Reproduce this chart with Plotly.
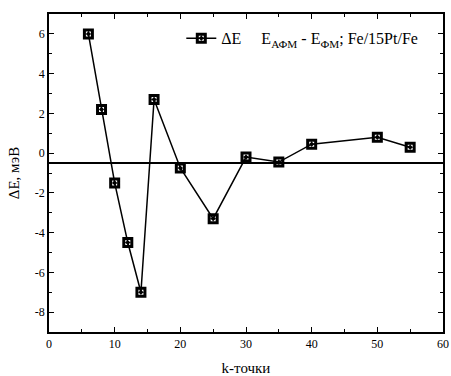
import plotly.graph_objects as go

# k-point convergence of the AFM-FM energy difference
k_points = [6, 8, 10, 12, 14, 16, 20, 25, 30, 35, 40, 50, 55]
delta_e = [6.0, 2.2, -1.5, -4.5, -7.0, 2.7, -0.75, -3.3, -0.2, -0.45, 0.45, 0.8, 0.3]
reference_level = -0.5

x_ticks = [0, 10, 20, 30, 40, 50, 60]
y_ticks = [-8, -6, -4, -2, 0, 2, 4, 6]
y_tick_text = [str(v).replace("\u2212", "-") for v in y_ticks]

serif = "Liberation Serif"

fig = go.Figure()
fig.add_trace(go.Scatter(
    x=k_points, y=delta_e,
    mode="lines+markers",
    name="\u0394E     E<sub>\u0410\u0424\u041c</sub> - E<sub>\u0424\u041c</sub>; Fe/15Pt/Fe",
    line=dict(color="black", width=1.5),
    marker=dict(symbol="square-open-dot", size=8, color="black",
                line=dict(width=3, color="black")),
))

fig.add_shape(type="line", xref="paper", x0=0, x1=1, yref="y",
              y0=reference_level, y1=reference_level,
              line=dict(color="black", width=2))

axis_common = dict(
    showline=True, linecolor="black", linewidth=1.5, mirror="allticks",
    ticks="inside", ticklen=5, tickwidth=1.2, tickcolor="black",
    showgrid=False, zeroline=False, automargin=False,
    tickfont=dict(family=serif, size=12, color="black"),
)

fig.update_xaxes(
    range=[0, 60], tickvals=x_ticks,
    minor=dict(ticks="inside", ticklen=3, tickcolor="black", dtick=5, tick0=0),
    title=dict(text="k-\u0442\u043e\u0447\u043a\u0438",
               font=dict(family=serif, size=15, color="black"), standoff=12),
    **axis_common,
)
fig.update_yaxes(
    range=[-9, 7], tickvals=y_ticks, ticktext=y_tick_text,
    minor=dict(ticks="inside", ticklen=3, tickcolor="black", dtick=1, tick0=0),
    title=dict(text="\u0394E, \u043c\u044d\u0412",
               font=dict(family=serif, size=15, color="black"), standoff=12),
    **axis_common,
)

fig.update_layout(
    width=451, height=376,
    margin=dict(l=49, r=8, t=14, b=44),
    paper_bgcolor="white", plot_bgcolor="white",
    showlegend=True,
    legend=dict(x=0.95, y=0.977, xanchor="right", yanchor="top",
                bgcolor="rgba(0,0,0,0)", itemwidth=30,
                font=dict(family=serif, size=16, color="black")),
)

fig.write_html("out.html")
